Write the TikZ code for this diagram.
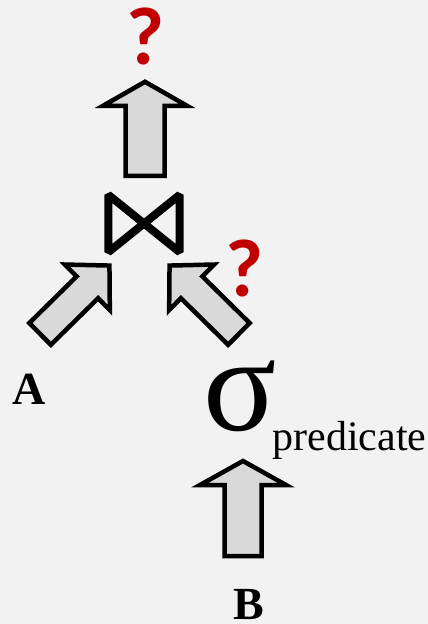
\documentclass[tikz,border=0pt]{standalone}
\usepackage{fontspec}
\setmainfont{Liberation Serif}
\newfontfamily\qfont{Carlito}
\usepackage{tikz}
\usetikzlibrary{calc}
\definecolor{slidebg}{RGB}{242, 242, 242}
\definecolor{arrowgray}{RGB}{217, 217, 217}
\definecolor{qred}{RGB}{192, 0, 0}
\tikzset{
  fatarrow/.style={draw=black, fill=arrowgray, line width=4.5pt, line join=miter},
  bowtie/.style={draw=black, line width=8pt, line join=bevel},
  qmark/.style={inner sep=0pt, text=qred, font=\qfont\bfseries\fontsize{82}{82}\selectfont},
  relname/.style={inner sep=0pt, anchor=base, font=\bfseries\fontsize{46}{46}\selectfont},
}
% block arrow: tail, tip, shaft half width, head half width, head length
\newcommand\fatarrowdraw[5]{%
  \draw[fatarrow] let \p1=($(#2)-(#1)$), \n1={atan2(\y1,\x1)}, \n2={veclen(\x1,\y1)} in
    [shift={(#1)}, rotate=\n1]
    (0pt,-#3pt) -- ({\n2-#5pt},-#3pt) -- ({\n2-#5pt},-#4pt) -- (\n2,0pt)
    -- ({\n2-#5pt},#4pt) -- ({\n2-#5pt},#3pt) -- (0pt,#3pt) -- cycle;
}

\begin{document}
\begin{tikzpicture}[x=1pt, y=-1pt]
  \fill[slidebg] (0,0) rectangle (428,624);
  \useasboundingbox (0,0) rectangle (428,624);

  % operators and inputs
  \node[qmark] (qtop) at (145,36) {?};
  \node[minimum width=71pt, minimum height=57pt, inner sep=0pt] (join) at (144,223.5) {};
  \draw[bowtie] (join.north west) -- (join.south west) -- (join.north east) -- (join.south east) -- cycle;
  \node[qmark] (qright) at (244,268) {?};
  \node[relname] (relA) at (29.5,404) {A};
  \node[anchor=base west, inner sep=0pt] (select) at (203,430)
       {\fontsize{136}{136}\selectfont σ\kern-4pt\raisebox{-20pt}{\fontsize{42}{42}\selectfont predicate}};
  \node[relname] (relB) at (248.5,619) {B};

  % arrow ends
  \coordinate (topTail) at ($(join.north)+(1,-19)$);
  \coordinate (topTip) at ($(join.north)+(1,-113)$);
  \coordinate (leftTail) at (40.1,333.9);
  \coordinate (leftTip) at ($(join.south west)+(1.2,13.3)$);
  \coordinate (rightTail) at (238.9,333.9);
  \coordinate (rightTip) at ($(join.south east)+(-10.2,13.3)$);
  \coordinate (botTail) at ($(relB.base)+(-5.5,-63)$);
  \coordinate (botTip) at ($(select.base west)+(40,31)$);

  % data flow
  \fatarrowdraw{topTail}{topTip}{19.5}{42}{24}
  \fatarrowdraw{leftTail}{leftTip}{15.3}{32}{31}
  \fatarrowdraw{rightTail}{rightTip}{15.3}{32}{31}
  \fatarrowdraw{botTail}{botTip}{18.5}{43}{24}
\end{tikzpicture}
\end{document}
